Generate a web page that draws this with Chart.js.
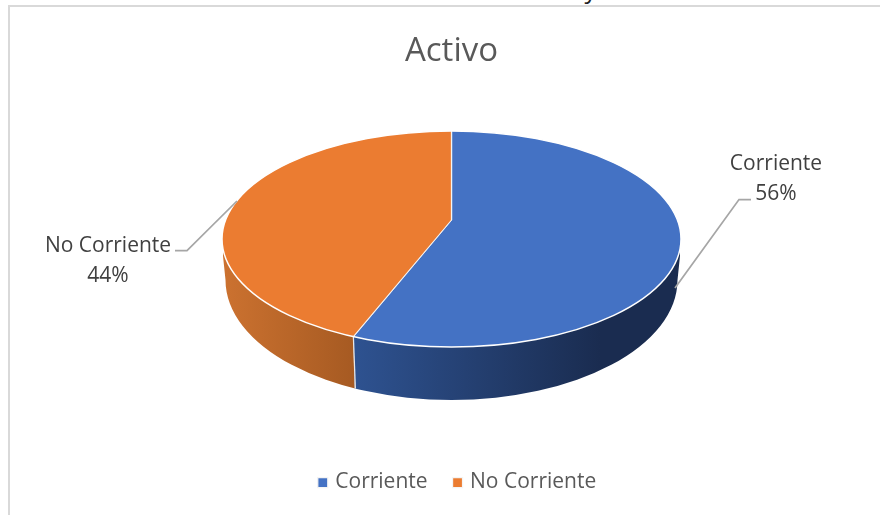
<!DOCTYPE html>
<html lang="es">
<head>
<meta charset="utf-8">
<title>Activo</title>
<script src="https://cdn.jsdelivr.net/npm/chart.js@4"></script>
<style>
  body { margin: 0; background: #fff; width: 880px; height: 515px; overflow: hidden; position: relative; }
  #caption { position: absolute; left: 0; width: 755px; top: -26px; line-height: 30px; text-align: right; font-family: "Open Sans", sans-serif; font-size: 24.5px; color: #222; white-space: nowrap; }
  #frame { position: absolute; left: 8px; top: 5px; width: 900px; height: 600px; border: 2px solid #d9d9d9; }
  canvas { position: absolute; left: 0; top: 0; }
</style>
</head>
<body>
<div id="caption">Gráfica 11: Total de activos corrientes y no corrientes</div>
<div id="frame"></div>
<canvas id="pieChart" width="880" height="515"></canvas>
<script>
const categories = ["Corriente", "No Corriente"];
const seriesValues = [56, 44];
const chartTitle = "Activo";
const sliceColors = ["#4472c4", "#eb7c31"];

const fontName = '"Open Sans", sans-serif';

// forma del disco en pantalla: la cara superior es una elipse con el vertice fuera del centro
const top3d = { cx: 451.5, cy: 239, rx: 229.5, ry: 108, apexX: 451.5, apexY: 220 };
const base3d = { cx: 451.5, cy: 280, rx: 226, ry: 120, edgeY: 256 };

// recorre el borde inferior del disco
function wallPath(ctx) {
  ctx.beginPath();
  ctx.moveTo(top3d.cx - top3d.rx + 1, base3d.edgeY - 20);
  ctx.lineTo(top3d.cx - top3d.rx + 1, base3d.edgeY);
  ctx.lineTo(base3d.cx - base3d.rx, base3d.cy);
  ctx.ellipse(base3d.cx, base3d.cy, base3d.rx, base3d.ry, 0, Math.PI, 0, true);
  ctx.lineTo(top3d.cx + top3d.rx - 1, base3d.edgeY);
  ctx.lineTo(top3d.cx + top3d.rx - 1, base3d.edgeY - 20);
  ctx.closePath();
}

// punto donde el radio de un angulo toca la elipse superior
function rimPoint(angle) {
  const v = (top3d.apexY - top3d.cy) / top3d.ry;
  const b = v * Math.sin(angle);
  const t = -b + Math.sqrt(b * b - v * v + 1);
  return {
    x: top3d.cx + t * Math.cos(angle) * top3d.rx,
    y: top3d.cy + (v + t * Math.sin(angle)) * top3d.ry,
  };
}

const disc3d = {
  id: "disc3d",
  afterLayout(chart) {
    chart.legend.left += 7;
    chart.legend.right += 7;
    chart.legend.top -= 12;
    chart.legend.bottom -= 12;
  },
  beforeDatasetsDraw(chart) {
    const ctx = chart.ctx;
    const arcs = chart.getDatasetMeta(0).data;
    const split = rimPoint(arcs[0].endAngle);
    const splitBottom = split.x + 2;

    // pared lateral de cada porcion
    const orange = ctx.createLinearGradient(222, 0, splitBottom, 0);
    orange.addColorStop(0, "#cc7230");
    orange.addColorStop(1, "#a65a22");
    const blue = ctx.createLinearGradient(splitBottom, 0, 600, 0);
    blue.addColorStop(0, "#2e5290");
    blue.addColorStop(1, "#1a2c50");

    ctx.save();
    ctx.beginPath();
    ctx.moveTo(split.x, split.y);
    ctx.lineTo(splitBottom, 420);
    ctx.lineTo(880, 420);
    ctx.lineTo(880, 200);
    ctx.lineTo(split.x, 200);
    ctx.closePath();
    ctx.clip();
    wallPath(ctx);
    ctx.fillStyle = blue;
    ctx.fill();
    ctx.restore();

    ctx.save();
    ctx.beginPath();
    ctx.moveTo(split.x, split.y);
    ctx.lineTo(splitBottom, 420);
    ctx.lineTo(0, 420);
    ctx.lineTo(0, 200);
    ctx.lineTo(split.x, 200);
    ctx.closePath();
    ctx.clip();
    wallPath(ctx);
    ctx.fillStyle = orange;
    ctx.fill();
    ctx.restore();

    // linea blanca entre las dos paredes
    ctx.beginPath();
    ctx.moveTo(split.x, split.y);
    ctx.lineTo(splitBottom, split.y + 52);
    ctx.strokeStyle = "#e8e8e8";
    ctx.lineWidth = 1.25;
    ctx.stroke();

    // el pie de la libreria se aplasta y se recorta a la elipse
    ctx.save();
    ctx.beginPath();
    ctx.ellipse(top3d.cx, top3d.cy, top3d.rx, top3d.ry, 0, 0, Math.PI * 2);
    ctx.clip();
    ctx.translate(top3d.apexX, top3d.apexY);
    ctx.scale(1, top3d.ry / top3d.rx);
    ctx.translate(-arcs[0].x, -arcs[0].y);
  },
  afterDatasetsDraw(chart) {
    const ctx = chart.ctx;
    ctx.restore();

    ctx.beginPath();
    ctx.ellipse(top3d.cx, top3d.cy, top3d.rx, top3d.ry, 0, 0, Math.PI * 2);
    ctx.strokeStyle = "#fff";
    ctx.lineWidth = 1.5;
    ctx.stroke();

    // lineas guia
    ctx.strokeStyle = "#a6a6a6";
    ctx.lineWidth = 1.75;
    ctx.beginPath();
    ctx.moveTo(675, 288);
    ctx.lineTo(739, 199.5);
    ctx.lineTo(751, 199.5);
    ctx.moveTo(237, 201);
    ctx.lineTo(187, 250.5);
    ctx.lineTo(175, 250.5);
    ctx.stroke();

    // etiquetas de datos
    const total = seriesValues.reduce((a, b) => a + b, 0);
    const places = [{ x: 776, y: 164 }, { x: 108, y: 246 }];
    ctx.fillStyle = "#404040";
    ctx.font = "21px " + fontName;
    ctx.textAlign = "center";
    ctx.textBaseline = "middle";
    categories.forEach((name, i) => {
      ctx.fillText(name, places[i].x, places[i].y);
      ctx.fillText(Math.round(seriesValues[i] / total * 100) + "%", places[i].x, places[i].y + 30);
    });
  },
};

new Chart(document.getElementById("pieChart"), {
  type: "pie",
  data: {
    labels: categories,
    datasets: [{
      data: seriesValues,
      backgroundColor: sliceColors,
      borderColor: "#f4f4f4",
      borderWidth: 1.25,
      radius: 320,
      clip: false,
    }],
  },
  options: {
    responsive: false,
    animation: false,
    events: [],
    layout: { padding: { left: 23 } },
    plugins: {
      title: {
        display: true,
        text: chartTitle,
        color: "#595959",
        font: { family: fontName, size: 33, weight: "normal" },
        padding: { top: 32, bottom: 0 },
      },
      legend: {
        position: "bottom",
        labels: {
          color: "#595959",
          font: { family: fontName, size: 21 },
          usePointStyle: true,
          pointStyle: "rect",
          boxWidth: 4,
          boxHeight: 10,
          padding: 28,
        },
      },
      tooltip: { enabled: false },
    },
  },
  plugins: [disc3d],
});
</script>
</body>
</html>
